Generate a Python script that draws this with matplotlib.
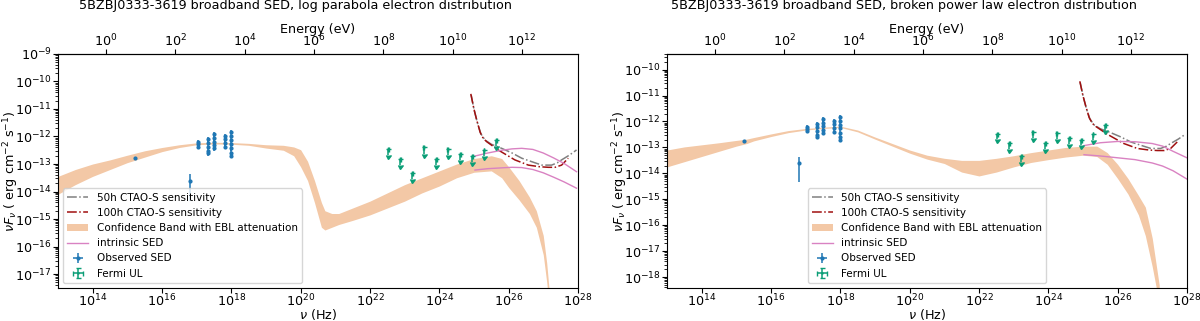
import numpy as np
import matplotlib
matplotlib.use('Agg')
import matplotlib.pyplot as plt
from matplotlib.ticker import LogLocator

H_EV = 4.135667e-15  # Planck constant, eV s

# ---- observed SED (same data in both panels) ----
obs_nu = [1.7e15, 6.6e16,
          1.1e17, 1.1e17, 1.1e17,
          2.2e17, 2.2e17, 2.2e17, 2.2e17, 2.2e17,
          3.2e17, 3.2e17, 3.2e17, 3.2e17, 3.2e17,
          6.6e17, 6.6e17, 6.6e17, 6.6e17,
          1.0e18, 1.0e18, 1.0e18, 1.0e18, 1.0e18, 1.0e18, 1.0e18]
obs_flux = [1.7e-13, 2.5e-14,
            6.3e-13, 5.2e-13, 4.3e-13,
            7.9e-13, 6.0e-13, 4.3e-13, 3.0e-13, 2.45e-13,
            1.2e-12, 8.5e-13, 6.5e-13, 4.9e-13, 3.7e-13,
            1.05e-12, 7.9e-13, 5.6e-13, 4.1e-13,
            1.48e-12, 1.05e-12, 7.4e-13, 5.4e-13, 3.7e-13, 2.6e-13, 1.95e-13]
obs_err_lo = [0.05, 0.82] + [0.17] * 24
obs_err_hi = [0.05, 0.78] + [0.2] * 24

# ---- Fermi upper limits ----
fermi_nu = [3.4e22, 7.4e22, 1.66e23, 3.6e23, 8.1e23,
            1.78e24, 4.0e24, 8.9e24, 1.95e25, 4.4e25]
fermi_ul = [3.4e-13, 1.5e-13, 4.7e-14, 4.0e-13, 1.48e-13,
            3.5e-13, 2.3e-13, 2.0e-13, 3.2e-13, 7.6e-13]

# ---- CTAO-S sensitivity curves (log10 nu, log10 nuFnu) ----
ctao50_lognu = [24.92, 25.0, 25.1, 25.2, 25.32, 25.5, 25.8, 26.1, 26.38,
                26.7, 26.96, 27.24, 27.4, 27.53, 27.75, 27.96]
ctao50_logf = [-10.49, -11.0, -11.5, -11.9, -12.13, -12.28, -12.43, -12.6,
               -12.79, -12.93, -13.04, -13.04, -12.96, -12.85, -12.68, -12.49]
ctao100_lognu = [24.91, 25.0, 25.08, 25.18, 25.27, 25.37, 25.7, 26.18,
                 26.57, 26.9, 27.15, 27.34, 27.53, 27.72]
ctao100_logf = [-10.45, -11.0, -11.4, -11.85, -12.07, -12.19, -12.49, -12.85,
                -13.04, -13.1, -13.12, -13.12, -13.04, -12.79]

# ---- log parabola model: EBL-attenuated confidence band ----
lp_lognu = [13.0, 13.5, 14.0, 14.5, 15.0, 15.5, 16.0, 16.5, 17.0, 17.5,
            18.0, 18.5, 19.0, 19.5, 19.8, 20.0, 20.2, 20.4, 20.6, 20.7,
            20.9, 21.1, 21.5, 22.0, 22.5, 23.0, 23.5, 24.0, 24.5, 25.0,
            25.5, 25.8, 26.0, 26.3, 26.6, 26.8, 27.0, 27.1, 27.2]
lp_band_hi = [-13.45, -13.2, -13.0, -12.85, -12.68, -12.52, -12.4, -12.3,
              -12.23, -12.21, -12.22, -12.25, -12.3, -12.32, -12.38, -12.48,
              -12.9, -13.6, -14.4, -14.7, -14.8, -14.8, -14.6, -14.35, -14.05,
              -13.75, -13.5, -13.25, -13.0, -12.8, -12.7, -12.8, -13.1, -13.6,
              -14.2, -14.7, -15.6, -16.6, -18.0]
lp_band_lo = [-14.1, -13.75, -13.45, -13.2, -12.95, -12.75, -12.55, -12.4,
              -12.3, -12.27, -12.28, -12.32, -12.42, -12.5, -12.7, -13.1,
              -13.6, -14.4, -15.3, -15.4, -15.3, -15.2, -15.05, -14.85, -14.6,
              -14.35, -14.05, -13.8, -13.5, -13.3, -13.25, -13.5, -13.85, -14.3,
              -14.8, -15.3, -16.3, -17.3, -18.5]
lp_int_lognu = [25.03, 25.4, 25.8, 26.1, 26.38, 26.7, 27.0, 27.3, 27.6, 27.96]
lp_int_hi = [-12.71, -12.6, -12.5, -12.45, -12.43, -12.47, -12.6, -12.78,
             -12.98, -13.28]
lp_int_lo = [-13.22, -13.17, -13.14, -13.12, -13.13, -13.2, -13.32, -13.48,
             -13.65, -13.88]

# ---- broken power law model ----
bpl_lognu = [13.0, 13.5, 14.0, 14.5, 15.0, 15.3, 15.5, 16.0, 16.5, 17.0,
             17.5, 18.0, 18.5, 19.0, 19.5, 20.0, 20.5, 21.0, 21.5, 22.0,
             22.5, 23.0, 23.5, 24.0, 24.5, 25.0, 25.4, 25.7, 26.0, 26.3,
             26.6, 26.8, 27.0, 27.2]
bpl_band_hi = [-13.1, -12.98, -12.9, -12.82, -12.73, -12.68, -12.62, -12.48,
               -12.35, -12.27, -12.22, -12.18, -12.33, -12.6, -12.85, -13.1,
               -13.3, -13.42, -13.5, -13.5, -13.42, -13.32, -13.2, -13.1,
               -13.0, -12.95, -12.95, -13.2, -13.65, -14.2, -14.85, -15.3,
               -16.5, -18.3]
bpl_band_lo = [-13.75, -13.55, -13.35, -13.15, -12.95, -12.85, -12.75, -12.58,
               -12.43, -12.33, -12.27, -12.23, -12.4, -12.68, -12.95, -13.22,
               -13.45, -13.62, -13.95, -14.1, -13.95, -13.75, -13.58, -13.47,
               -13.37, -13.3, -13.35, -13.65, -14.2, -14.8, -15.6, -16.4,
               -17.6, -19.0]
bpl_int_lognu = [25.03, 25.5, 26.0, 26.5, 27.0, 27.3, 27.6, 28.0]
bpl_int_hi = [-12.93, -12.82, -12.77, -12.78, -12.85, -12.95, -13.15, -13.4]
bpl_int_lo = [-13.28, -13.33, -13.4, -13.47, -13.6, -13.72, -13.9, -14.22]

band_color = '#f3c8a6'
int_color = '#d982c2'
obs_color = '#1f77b4'
fermi_color = '#0a9e76'


def draw_panel(ax, title, band_lognu, band_hi, band_lo,
               int_lognu, int_hi, int_lo, ylim, legend_loc):
    l50, = ax.plot(10**np.array(ctao50_lognu), 10**np.array(ctao50_logf),
                   color='grey', ls='-.', lw=1.1)
    l100, = ax.plot(10**np.array(ctao100_lognu), 10**np.array(ctao100_logf),
                    color='#a01010', ls='-.', lw=1.1)
    bnu = 10**np.array(band_lognu)
    band = ax.fill_between(bnu, 10**np.array(band_lo), 10**np.array(band_hi),
                           color=band_color, lw=0)
    inu = 10**np.array(int_lognu)
    lint, = ax.plot(inu, 10**np.array(int_hi), color=int_color, lw=1)
    ax.plot(inu, 10**np.array(int_lo), color=int_color, lw=1)

    fl = np.array(obs_flux)
    obs = ax.errorbar(obs_nu, obs_flux,
                      yerr=[fl * np.array(obs_err_lo), fl * np.array(obs_err_hi)],
                      xerr=np.array(obs_nu) * 0.03, fmt='o', ms=2,
                      color=obs_color, elinewidth=1.1)
    fer = ax.errorbar(fermi_nu, fermi_ul, yerr=np.array(fermi_ul) * 0.4,
                      xerr=np.array(fermi_nu) * 0.03, uplims=True, fmt='.',
                      ms=1.5, capsize=1.8, color=fermi_color, elinewidth=1.1)

    ax.set_xscale('log')
    ax.set_yscale('log')
    ax.set_xlim(1e13, 1e28)
    ax.set_ylim(*ylim)
    ax.yaxis.set_major_locator(LogLocator(base=10, numticks=20))
    ax.tick_params(axis='x', which='major', length=3.5, pad=0)
    ax.tick_params(axis='y', which='major', length=3.5, pad=1)
    ax.set_xlabel(r'$\nu$ (Hz)', labelpad=-1.5)
    ax.set_ylabel(r'$\nu F_\nu$ ( erg cm$^{-2}$ s$^{-1}$)')
    ax.yaxis.set_label_coords(-0.072, 0.5)

    sec = ax.secondary_xaxis('top', functions=(lambda n: n * H_EV,
                                               lambda e: e / H_EV))
    sec.tick_params(which='major', length=3.5, pad=0)
    sec.set_xlabel('Energy (eV)', labelpad=0)
    ax.set_title(title, x=0.456, y=1.194, pad=0, fontsize=9.2)

    ax.legend([l50, l100, band, lint, obs, fer],
              ['50h CTAO-S sensitivity', '100h CTAO-S sensitivity',
               'Confidence Band with EBL attenuation', 'intrinsic SED',
               'Observed SED', 'Fermi UL'],
              loc=legend_loc, fontsize=7.5)


plt.rcParams['font.size'] = 9.2
fig = plt.figure(figsize=(12, 3.21), dpi=100)
ax1 = fig.add_axes([0.0483, 0.1028, 0.4333, 0.729])
ax2 = fig.add_axes([0.5558, 0.1028, 0.4333, 0.729])

draw_panel(ax1, '5BZBJ0333-3619 broadband SED, log parabola electron distribution',
           lp_lognu, lp_band_hi, lp_band_lo, lp_int_lognu, lp_int_hi, lp_int_lo,
           (3.1e-18, 1e-9), 'lower left')
draw_panel(ax2, '5BZBJ0333-3619 broadband SED, broken power law electron distribution',
           bpl_lognu, bpl_band_hi, bpl_band_lo, bpl_int_lognu, bpl_int_hi, bpl_int_lo,
           (3.8e-19, 4e-10), 'lower center')

fig.savefig('out.png', dpi=100)
